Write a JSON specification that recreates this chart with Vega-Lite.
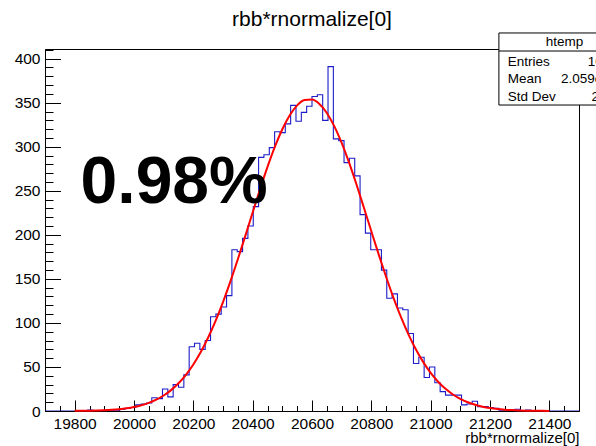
{
  "$schema": "https://vega.github.io/schema/vega-lite/v6.json",
  "width": 534,
  "height": 362,
  "autosize": {"type": "none"},
  "padding": {"left": 45, "top": 49, "right": 17, "bottom": 35},
  "background": "white",
  "config": {
    "view": {"stroke": "black", "strokeWidth": 1},
    "font": "Liberation Sans",
    "axis": {"grid": false, "domainColor": "black", "tickColor": "black", "labelColor": "black", "labelFont": "Liberation Sans", "titleFont": "Liberation Sans", "titleColor": "black", "titleFontWeight": "normal", "tickWidth": 1, "domainWidth": 1}
  },
  "datasets": {
    "hist": [
      {"x":19700,"n":0},{"x":19718,"n":0},{"x":19736,"n":0},{"x":19754,"n":0},{"x":19772,"n":0},{"x":19790,"n":0},{"x":19808,"n":0},{"x":19826,"n":0},{"x":19844,"n":1},{"x":19862,"n":0},
      {"x":19880,"n":0},{"x":19898,"n":1},{"x":19916,"n":1},{"x":19934,"n":1},{"x":19952,"n":2},{"x":19970,"n":3},{"x":19988,"n":4},{"x":20006,"n":7},{"x":20024,"n":8},{"x":20042,"n":9},
      {"x":20060,"n":15},{"x":20078,"n":14},{"x":20096,"n":25},{"x":20114,"n":16},{"x":20132,"n":30},{"x":20150,"n":27},{"x":20168,"n":41},{"x":20186,"n":73},{"x":20204,"n":77},{"x":20222,"n":70},
      {"x":20240,"n":80},{"x":20258,"n":107},{"x":20276,"n":110},{"x":20294,"n":118},{"x":20312,"n":131},{"x":20330,"n":183},{"x":20348,"n":181},{"x":20366,"n":196},{"x":20384,"n":210},{"x":20402,"n":232},
      {"x":20420,"n":288},{"x":20438,"n":291},{"x":20456,"n":299},{"x":20474,"n":317},{"x":20492,"n":316},{"x":20510,"n":326},{"x":20528,"n":347},{"x":20546,"n":329},{"x":20564,"n":339},{"x":20582,"n":346},
      {"x":20600,"n":357},{"x":20618,"n":359},{"x":20636,"n":330},{"x":20654,"n":391},{"x":20672,"n":309},{"x":20690,"n":307},{"x":20708,"n":282},{"x":20726,"n":287},{"x":20744,"n":267},{"x":20762,"n":223},
      {"x":20780,"n":202},{"x":20798,"n":183},{"x":20816,"n":183},{"x":20834,"n":160},{"x":20852,"n":128},{"x":20870,"n":133},{"x":20888,"n":117},{"x":20906,"n":115},{"x":20924,"n":88},{"x":20942,"n":54},
      {"x":20960,"n":61},{"x":20978,"n":38},{"x":20996,"n":50},{"x":21014,"n":32},{"x":21032,"n":22},{"x":21050,"n":18},{"x":21068,"n":18},{"x":21086,"n":18},{"x":21104,"n":7},{"x":21122,"n":8},
      {"x":21140,"n":11},{"x":21158,"n":5},{"x":21176,"n":5},{"x":21194,"n":4},{"x":21212,"n":3},{"x":21230,"n":1},{"x":21248,"n":1},{"x":21266,"n":1},{"x":21284,"n":2},{"x":21302,"n":0},
      {"x":21320,"n":1},{"x":21338,"n":0},{"x":21356,"n":0},{"x":21374,"n":0},{"x":21392,"n":0},{"x":21410,"n":0},{"x":21428,"n":0},{"x":21446,"n":0},{"x":21464,"n":0},{"x":21482,"n":0},
      {"x":21500,"n":0}
    ],
    "fit": [
      {"x":19800,"f":0.145},{"x":19825,"f":0.236},{"x":19850,"f":0.377},{"x":19875,"f":0.594},{"x":19900,"f":0.921},{"x":19925,"f":1.407},{"x":19950,"f":2.116},{"x":19975,"f":3.131},
      {"x":20000,"f":4.564},{"x":20025,"f":6.548},{"x":20050,"f":9.247},{"x":20075,"f":12.86},{"x":20100,"f":17.60},{"x":20125,"f":23.71},{"x":20150,"f":31.48},{"x":20175,"f":41.11},
      {"x":20200,"f":52.88},{"x":20225,"f":66.95},{"x":20250,"f":83.46},{"x":20275,"f":102.4},{"x":20300,"f":123.7},{"x":20325,"f":147.2},{"x":20350,"f":172.3},{"x":20375,"f":198.6},
      {"x":20400,"f":225.4},{"x":20425,"f":251.9},{"x":20450,"f":277.1},{"x":20475,"f":300.1},{"x":20500,"f":319.9},{"x":20525,"f":335.8},{"x":20550,"f":347.0},{"x":20575,"f":353.0},
      {"x":20600,"f":353.6},{"x":20625,"f":348.6},{"x":20650,"f":338.4},{"x":20675,"f":323.4},{"x":20700,"f":304.3},{"x":20725,"f":281.9},{"x":20750,"f":257.1},{"x":20775,"f":230.8},
      {"x":20800,"f":204.0},{"x":20825,"f":177.5},{"x":20850,"f":152.1},{"x":20875,"f":128.2},{"x":20900,"f":106.5},{"x":20925,"f":87.05},{"x":20950,"f":70.06},{"x":20975,"f":55.50},
      {"x":21000,"f":43.30},{"x":21025,"f":33.24},{"x":21050,"f":25.13},{"x":21075,"f":18.71},{"x":21100,"f":13.71},{"x":21125,"f":9.89},{"x":21150,"f":7.02},{"x":21175,"f":4.91},
      {"x":21200,"f":3.38},{"x":21225,"f":2.29},{"x":21250,"f":1.53},{"x":21275,"f":1.00},{"x":21300,"f":0.65},{"x":21325,"f":0.41},{"x":21350,"f":0.26},{"x":21375,"f":0.16},{"x":21400,"f":0.10}
    ],
    "one": [{}]
  },
  "layer": [
    {
      "data": {"name": "hist"},
      "mark": {"type": "line", "interpolate": "step-after", "color": "#1c1cc8", "strokeWidth": 1.1, "clip": true},
      "encoding": {
        "x": {"field": "x", "type": "quantitative", "scale": {"domain": [19700, 21500], "nice": false, "zero": false},
          "axis": {"orient": "bottom", "values": [19800, 20000, 20200, 20400, 20600, 20800, 21000, 21200, 21400], "format": "d", "tickSize": -11, "labelPadding": 16, "labelFontSize": 15.5, "title": "rbb*rnormalize[0]", "titleFontSize": 15, "titleAnchor": "end", "titlePadding": -1}},
        "y": {"field": "n", "type": "quantitative", "scale": {"domain": [0, 411], "nice": false, "zero": false},
          "axis": {"orient": "left", "values": [0, 50, 100, 150, 200, 250, 300, 350, 400], "format": "d", "tickSize": -15.5, "labelPadding": 20.5, "labelFontSize": 15.5, "title": null}}
      }
    },
    {
      "data": {"name": "fit"},
      "mark": {"type": "line", "interpolate": "monotone", "color": "#ff0000", "strokeWidth": 2},
      "encoding": {
        "x": {"field": "x", "type": "quantitative", "scale": {"domain": [19700, 21500], "nice": false, "zero": false},
          "axis": {"orient": "bottom", "values": [19750, 19850, 19900, 19950, 20050, 20100, 20150, 20250, 20300, 20350, 20450, 20500, 20550, 20650, 20700, 20750, 20850, 20900, 20950, 21050, 21100, 21150, 21250, 21300, 21350, 21450], "tickSize": -5.5, "labels": false, "domain": false, "title": null}},
        "y": {"field": "f", "type": "quantitative", "scale": {"domain": [0, 411], "nice": false, "zero": false},
          "axis": {"orient": "left", "values": [10, 20, 30, 40, 60, 70, 80, 90, 110, 120, 130, 140, 160, 170, 180, 190, 210, 220, 230, 240, 260, 270, 280, 290, 310, 320, 330, 340, 360, 370, 380, 390, 410], "tickSize": -8, "labels": false, "domain": false, "title": null}}
      }
    },
    {
      "data": {"name": "one"},
      "mark": {"type": "text", "text": "rbb*rnormalize[0]", "font": "Liberation Sans", "fontSize": 21, "align": "center", "baseline": "alphabetic", "color": "black"},
      "encoding": {
        "x": {"datum": 20600, "type": "quantitative", "scale": {"domain": [19700, 21500], "nice": false, "zero": false}, "axis": null},
        "y": {"datum": 436.6, "type": "quantitative", "scale": {"domain": [0, 411], "nice": false, "zero": false}, "axis": null}
      }
    },
    {
      "data": {"name": "one"},
      "mark": {"type": "text", "text": "0.98%", "font": "Liberation Sans", "fontWeight": "bold", "fontSize": 66, "align": "left", "baseline": "alphabetic", "color": "black"},
      "encoding": {
        "x": {"datum": 19820, "type": "quantitative", "scale": {"domain": [19700, 21500], "nice": false, "zero": false}, "axis": null},
        "y": {"datum": 235.6, "type": "quantitative", "scale": {"domain": [0, 411], "nice": false, "zero": false}, "axis": null}
      }
    },
    {
      "data": {"name": "one"},
      "mark": {"type": "rect", "fill": "white", "stroke": "black", "strokeWidth": 1},
      "encoding": {
        "x": {"datum": 21230, "type": "quantitative", "scale": {"domain": [19700, 21500], "nice": false, "zero": false}, "axis": null},
        "x2": {"datum": 21680},
        "y": {"datum": 347.4, "type": "quantitative", "scale": {"domain": [0, 411], "nice": false, "zero": false}, "axis": null},
        "y2": {"datum": 429.2}
      }
    },
    {
      "data": {"name": "one"},
      "mark": {"type": "rule", "color": "black", "strokeWidth": 1},
      "encoding": {
        "x": {"datum": 21230, "type": "quantitative", "scale": {"domain": [19700, 21500], "nice": false, "zero": false}, "axis": null},
        "x2": {"datum": 21680},
        "y": {"datum": 408.7, "type": "quantitative", "scale": {"domain": [0, 411], "nice": false, "zero": false}, "axis": null}
      }
    },
    {
      "data": {"name": "one"},
      "mark": {"type": "text", "text": "htemp", "font": "Liberation Sans", "fontSize": 13.5, "align": "center", "baseline": "middle", "color": "black"},
      "encoding": {
        "x": {"datum": 21451, "type": "quantitative", "scale": {"domain": [19700, 21500], "nice": false, "zero": false}, "axis": null},
        "y": {"datum": 419, "type": "quantitative", "scale": {"domain": [0, 411], "nice": false, "zero": false}, "axis": null}
      }
    },
    {
      "data": {"name": "one"},
      "mark": {"type": "text", "text": "Entries", "font": "Liberation Sans", "fontSize": 13.5, "align": "left", "baseline": "middle", "color": "black"},
      "encoding": {
        "x": {"datum": 21260, "type": "quantitative", "scale": {"domain": [19700, 21500], "nice": false, "zero": false}, "axis": null},
        "y": {"datum": 396.6, "type": "quantitative", "scale": {"domain": [0, 411], "nice": false, "zero": false}, "axis": null}
      }
    },
    {
      "data": {"name": "one"},
      "mark": {"type": "text", "text": "Mean", "font": "Liberation Sans", "fontSize": 13.5, "align": "left", "baseline": "middle", "color": "black"},
      "encoding": {
        "x": {"datum": 21260, "type": "quantitative", "scale": {"domain": [19700, 21500], "nice": false, "zero": false}, "axis": null},
        "y": {"datum": 376.6, "type": "quantitative", "scale": {"domain": [0, 411], "nice": false, "zero": false}, "axis": null}
      }
    },
    {
      "data": {"name": "one"},
      "mark": {"type": "text", "text": "Std Dev", "font": "Liberation Sans", "fontSize": 13.5, "align": "left", "baseline": "middle", "color": "black"},
      "encoding": {
        "x": {"datum": 21260, "type": "quantitative", "scale": {"domain": [19700, 21500], "nice": false, "zero": false}, "axis": null},
        "y": {"datum": 356.2, "type": "quantitative", "scale": {"domain": [0, 411], "nice": false, "zero": false}, "axis": null}
      }
    },
    {
      "data": {"name": "one"},
      "mark": {"type": "text", "text": "10000", "font": "Liberation Sans", "fontSize": 13.5, "align": "right", "baseline": "middle", "color": "black"},
      "encoding": {
        "x": {"datum": 21656, "type": "quantitative", "scale": {"domain": [19700, 21500], "nice": false, "zero": false}, "axis": null},
        "y": {"datum": 396.6, "type": "quantitative", "scale": {"domain": [0, 411], "nice": false, "zero": false}, "axis": null}
      }
    },
    {
      "data": {"name": "one"},
      "mark": {"type": "text", "text": "2.059e+04", "font": "Liberation Sans", "fontSize": 13.5, "align": "right", "baseline": "middle", "color": "black"},
      "encoding": {
        "x": {"datum": 21656, "type": "quantitative", "scale": {"domain": [19700, 21500], "nice": false, "zero": false}, "axis": null},
        "y": {"datum": 376.6, "type": "quantitative", "scale": {"domain": [0, 411], "nice": false, "zero": false}, "axis": null}
      }
    },
    {
      "data": {"name": "one"},
      "mark": {"type": "text", "text": "201.7", "font": "Liberation Sans", "fontSize": 13.5, "align": "right", "baseline": "middle", "color": "black"},
      "encoding": {
        "x": {"datum": 21656, "type": "quantitative", "scale": {"domain": [19700, 21500], "nice": false, "zero": false}, "axis": null},
        "y": {"datum": 356.2, "type": "quantitative", "scale": {"domain": [0, 411], "nice": false, "zero": false}, "axis": null}
      }
    }
  ],
  "resolve": {"axis": {"x": "independent", "y": "independent"}}
}
